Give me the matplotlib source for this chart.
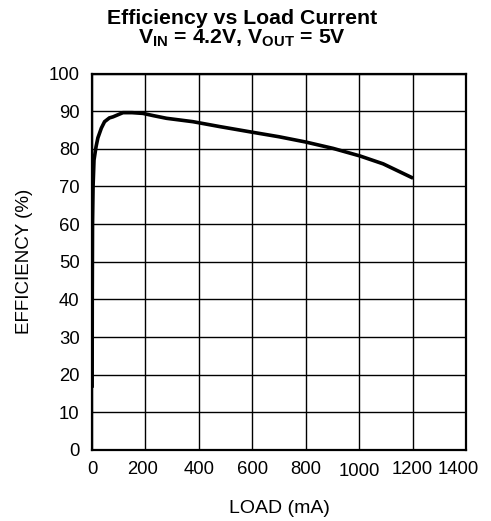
import matplotlib
matplotlib.use("Agg")
import matplotlib.pyplot as plt
from matplotlib.transforms import ScaledTranslation

plt.rcParams['font.family'] = ['Liberation Sans', 'DejaVu Sans']
plt.rcParams['mathtext.fontset'] = 'custom'
plt.rcParams['mathtext.rm'] = 'Liberation Sans'
plt.rcParams['mathtext.bf'] = 'Liberation Sans:bold'
plt.rcParams['mathtext.it'] = 'Liberation Sans:italic'

# Data
load_ma = [0.5, 1, 2, 4, 7.5, 15, 22, 35, 47, 65, 79, 116, 150, 191, 230,
           279, 378, 478, 592, 700, 800, 903, 1003, 1090, 1196]
efficiency = [17, 40, 60, 70, 77, 80.5, 82.9, 85.5, 87.2, 88.2, 88.5, 89.6,
              89.6, 89.4, 88.8, 88.1, 87.2, 85.9, 84.5, 83.2, 81.8, 80.1,
              78.1, 76.0, 72.4]
x_ticks = [0, 200, 400, 600, 800, 1000, 1200, 1400]
y_ticks = [0, 10, 20, 30, 40, 50, 60, 70, 80, 90, 100]

W, H = 491, 521
fig = plt.figure(figsize=(W / 100, H / 100), dpi=100)
ax = fig.add_axes([92 / W, (H - 450) / H, 374 / W, 376.5 / H])

ax.plot(load_ma, efficiency, color='black', linewidth=2.6, solid_joinstyle='miter')

ax.set_xlim(0, 1400)
ax.set_ylim(0, 100)
ax.set_xticks(x_ticks)
ax.set_yticks(y_ticks)
ax.set_xticklabels([str(v) for v in x_ticks])
ax.set_yticklabels([str(v) for v in y_ticks])
ax.tick_params(length=0, labelsize=13.3, colors='black')
ax.tick_params(axis='y', pad=9)
ax.tick_params(axis='x', pad=8)
ax.grid(True, color='black', linewidth=1.0)
ax.set_axisbelow(True)
for s in ax.spines.values():
    s.set_linewidth(1.6)
    s.set_color('black')

# small label offsets as in the reference
for lab in ax.get_xticklabels():
    t = lab.get_text()
    if t == '1400':
        lab.set_transform(lab.get_transform() + ScaledTranslation(-8 / 100, 0, fig.dpi_scale_trans))
    elif t == '1000':
        lab.set_transform(lab.get_transform() + ScaledTranslation(0, -2 / 100, fig.dpi_scale_trans))
    elif t == '200':
        lab.set_transform(lab.get_transform() + ScaledTranslation(-3 / 100, 0, fig.dpi_scale_trans))

ax.set_xlabel('LOAD (mA)', fontsize=14, labelpad=14)
ax.set_ylabel('EFFICIENCY (%)', fontsize=13.5, labelpad=11)

fig.text(0.493, 1 - 24 / H, 'Efficiency vs Load Current', ha='center', va='baseline',
         fontsize=15.3, fontweight='bold')
fig.text(0.493, 1 - 44 / H, r'V$_\mathbf{IN}$ = 4.2V, V$_\mathbf{OUT}$ = 5V', ha='center',
         va='baseline', fontsize=15.3, fontweight='bold')

fig.savefig('out.png', dpi=100)
